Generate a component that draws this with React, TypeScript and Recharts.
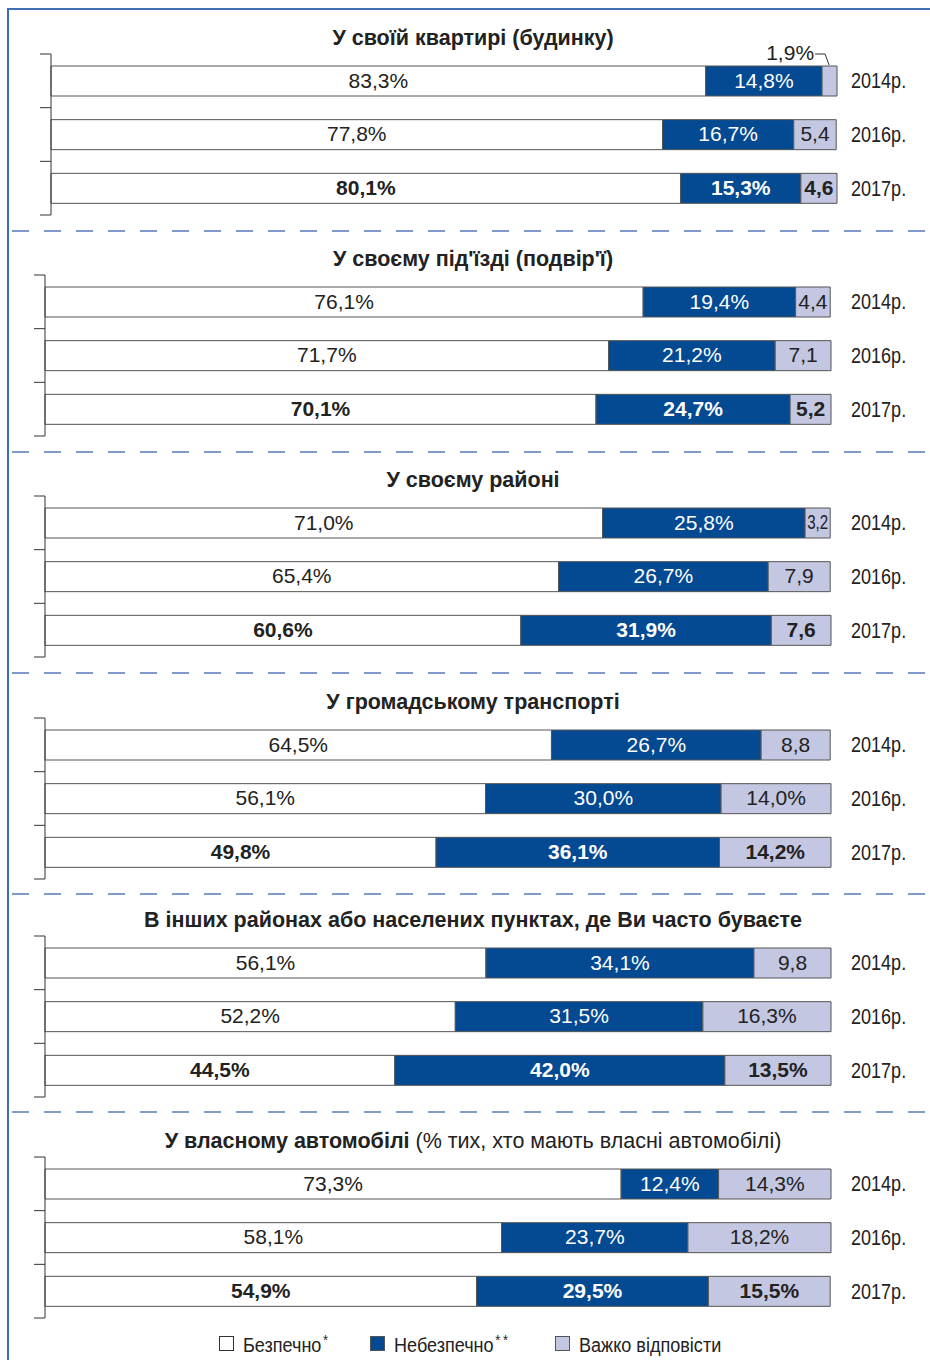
import { Bar, BarChart, LabelList, XAxis, YAxis } from "recharts";

const years = ["2014р.", "2016р.", "2017р."];

const titles = [
  "У своїй квартирі (будинку)",
  "У своєму під'їзді (подвір'ї)",
  "У своєму районі",
  "У громадському транспорті",
  "В інших районах або населених пунктах, де Ви часто буваєте",
  "У власному автомобілі",
];
const titleNotes = ["", "", "", "", "", " (% тих, хто мають власні автомобілі)"];

const safe = [
  [83.3, 77.8, 80.1],
  [76.1, 71.7, 70.1],
  [71.0, 65.4, 60.6],
  [64.5, 56.1, 49.8],
  [56.1, 52.2, 44.5],
  [73.3, 58.1, 54.9],
];
const unsafe = [
  [14.8, 16.7, 15.3],
  [19.4, 21.2, 24.7],
  [25.8, 26.7, 31.9],
  [26.7, 30.0, 36.1],
  [34.1, 31.5, 42.0],
  [12.4, 23.7, 29.5],
];
const hard = [
  [1.9, 5.4, 4.6],
  [4.4, 7.1, 5.2],
  [3.2, 7.9, 7.6],
  [8.8, 14.0, 14.2],
  [9.8, 16.3, 13.5],
  [14.3, 18.2, 15.5],
];

const legendNames = ["Безпечно", "Небезпечно", "Важко відповісти"];
const legendMarks = ["*", "**", ""];

const BLUE = "#044a93";
const LIGHT = "#c4c7e1";
const EDGE = "#555";
const FRAME = "#3f70b6";
const SANS = "'Liberation Sans', Arial, sans-serif";

// layout of each block
const bandTops = [54, 275, 496, 718, 936, 1157];
const plotLefts = [51, 45, 45, 45, 45, 45];
const plotRight = [837, 831, 831, 831, 831, 831];
const dashYs = [231, 452, 673, 894, 1112];
const BAND_H = 161;
const ROW_H = BAND_H / 3;
const YEAR_X = 851;
const PAD = 22;

const fmt = (v: number, pct: boolean) =>
  v.toFixed(1).replace(".", ",") + (pct ? "%" : "");

// condensed look: normal sans squeezed horizontally
const Squeezed = ({ x, y, sx = 0.82, size = 21, anchor = "start", children }: any) => (
  <g transform={`translate(${x},${y}) scale(${sx},1)`}>
    <text x={0} y={0} textAnchor={anchor} dominantBaseline="central" fontFamily={SANS} fontSize={size} fill="#222">
      {children}
    </text>
  </g>
);

const YearTick = (props: any) => {
  const { y, payload } = props;
  return <Squeezed x={YEAR_X} y={y} size={22}>{payload.value}</Squeezed>;
};

// bracket ticks sit on the row boundaries, not on the row centres
const makeBracketTick = (left: number) => (props: any) => {
  const { y, index } = props;
  const top = y - ROW_H / 2;
  return (
    <g>
      <line x1={left - 11} x2={left} y1={top} y2={top} stroke="#333" />
      {index === 2 && (
        <line x1={left - 11} x2={left} y1={top + ROW_H} y2={top + ROW_H} stroke="#333" />
      )}
    </g>
  );
};

const makeLabel = (kind: "safe" | "unsafe" | "hard") => (props: any) => {
  const { x, y, width, height, value, index } = props;
  const bold = index === 2;
  const cx = x + width / 2;
  const cy = y + height / 2;
  const fill = kind === "unsafe" ? "#fff" : "#222";
  if (kind === "hard" && value < 2) {
    return (
      <g>
        <text
          x={x - 8}
          y={y - 6}
          textAnchor="end"
          fontFamily={SANS}
          fontSize={21}
          fill="#222"
        >
          {fmt(value, true)}
        </text>
        <path
          d={`M${x - 7},${y - 12} L${x + 3},${y - 12} L${x + 7},${y - 1}`}
          stroke="#333"
          fill="none"
        />
      </g>
    );
  }
  const pct = kind !== "hard" || value >= 10;
  const narrow = width < 34;
  return (
    <g transform={`translate(${cx},${cy - 1}) scale(${narrow ? 0.72 : 1},1)`}>
      <text
        x={0}
        y={0}
        textAnchor="middle"
        dominantBaseline="central"
        fontFamily={SANS}
        fontSize={21}
        fontWeight={bold ? "bold" : "normal"}
        fill={fill}
      >
        {fmt(value, pct)}
      </text>
    </g>
  );
};

const Block = ({ p }: { p: number }) => {
  const rows = years.map((year, i) => ({
    year,
    safe: safe[p][i],
    unsafe: unsafe[p][i],
    hard: hard[p][i],
  }));
  return (
    <>
      <div
        style={{
          position: "absolute",
          left: 0,
          width: 946,
          top: bandTops[p] - 29,
          textAlign: "center",
          fontFamily: SANS,
          fontSize: 21.5,
          color: "#222",
          lineHeight: "26px",
        }}
      >
        <b>{titles[p]}</b>
        {titleNotes[p]}
      </div>
      <div style={{ position: "absolute", left: 0, top: bandTops[p] - PAD }}>
        <BarChart
          layout="vertical"
          width={930}
          height={BAND_H + 2 * PAD}
          data={rows}
          barSize={30}
          margin={{
            top: PAD,
            bottom: PAD,
            left: plotLefts[p] - 12,
            right: 930 - plotRight[p] - 80,
          }}
        >
          <XAxis type="number" domain={[0, 100]} hide />
          <YAxis
            yAxisId="br"
            type="category"
            dataKey="year"
            width={12}
            interval={0}
            tickLine={false}
            tick={makeBracketTick(plotLefts[p])}
            axisLine={{ stroke: "#333" }}
          />
          <YAxis
            yAxisId="year"
            type="category"
            dataKey="year"
            orientation="right"
            width={80}
            interval={0}
            axisLine={false}
            tickLine={false}
            tick={YearTick}
          />
          <Bar dataKey="safe" stackId="a" yAxisId="year" fill="#fff" stroke={EDGE} isAnimationActive={false}>
            <LabelList dataKey="safe" content={makeLabel("safe")} />
          </Bar>
          <Bar dataKey="unsafe" stackId="a" yAxisId="year" fill={BLUE} stroke={EDGE} isAnimationActive={false}>
            <LabelList dataKey="unsafe" content={makeLabel("unsafe")} />
          </Bar>
          <Bar dataKey="hard" stackId="a" yAxisId="year" fill={LIGHT} stroke={EDGE} isAnimationActive={false}>
            <LabelList dataKey="hard" content={makeLabel("hard")} />
          </Bar>
        </BarChart>
      </div>
    </>
  );
};

const swatches = ["#fff", BLUE, LIGHT];
const legendX = [219, 370, 555];

export default function App() {
  return (
    <div style={{ position: "absolute", left: 0, top: 0, width: 930, height: 1360, background: "#fff" }}>
      <svg width={930} height={1360} style={{ position: "absolute", left: 0, top: 0 }}>
        <line x1={8} y1={9} x2={930} y2={9} stroke={FRAME} strokeWidth={2} />
        <line x1={8} y1={8} x2={8} y2={1360} stroke={FRAME} strokeWidth={2} />
        {dashYs.map((y) => (
          <line key={y} x1={8} y1={y} x2={930} y2={y} stroke="#5579bb" strokeWidth={1.5} strokeDasharray="17 15" strokeDashoffset={-4} />
        ))}
        {legendNames.map((n, i) => (
          <g key={n}>
            <rect
              x={legendX[i] + 0.5}
              y={1336.5}
              width={14}
              height={14}
              fill={swatches[i]}
              stroke={i === 0 ? "#333" : EDGE}
            />
            <g transform={`translate(${legendX[i] + 24},1344) scale(0.86,1)`}>
              <text x={0} y={0} dominantBaseline="central" fontFamily={SANS} fontSize={21} fill="#222">
                {n}
                {legendMarks[i] && (
                  <tspan dx={2} dy={-4} fontSize={15} letterSpacing={3}>
                    {legendMarks[i]}
                  </tspan>
                )}
              </text>
            </g>
          </g>
        ))}
      </svg>
      {titles.map((_, p) => (
        <Block key={p} p={p} />
      ))}
    </div>
  );
}
